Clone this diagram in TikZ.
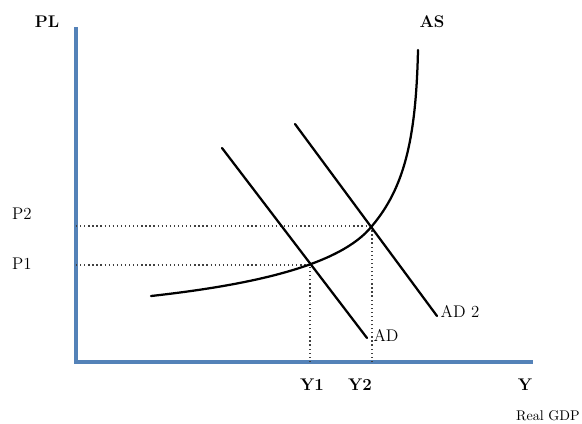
\documentclass[tikz,border=0pt]{standalone}
\usepackage{xcolor}
\usepackage{tikz}

\definecolor{axisblue}{RGB}{84,130,184}

\begin{document}
\begin{tikzpicture}
	[
	x=0.025cm, y=-0.025cm,
	axis/.style={
		draw=axisblue,
		line width=2.2pt
	},
	curve/.style={
		draw=black,
		line width=1.6pt,
		line cap=round
	},
	guide/.style={
		draw=black!75,
		dotted,
		line width=0.9pt
	},
	lbl/.style={
		font=\large,
		inner sep=0pt
	},
	blbl/.style={
		font=\large\bfseries,
		inner sep=0pt
	}
	]
	
	\useasboundingbox (0,0) rectangle (582,423);
	
	% Axes
	\coordinate (origin) at (76,362);
	\coordinate (y_top) at (76,27);
	\coordinate (x_end) at (533,362);
	\draw[axis] (y_top) -- (origin) -- (x_end);
	
	% Curve end points
	\coordinate (ad_start) at (222,148);
	\coordinate (ad_end) at (367,338);
	\coordinate (ad2_start) at (295,124);
	\coordinate (ad2_end) at (437,316);
	\coordinate (as_start) at (151,296);
	\coordinate (as_end) at (418,50);
	
	% Equilibria
	\coordinate (eq_one) at (310,265);
	\coordinate (eq_two) at (372,226);
	\coordinate (p_one) at (76,265);
	\coordinate (p_two) at (76,226);
	\coordinate (y_one) at (310,362);
	\coordinate (y_two) at (372,362);
	
	% Guide lines
	\draw[guide] (p_two) -- (eq_two);
	\draw[guide] (p_one) -- (eq_one);
	\draw[guide] (y_one) -- (eq_one);
	\draw[guide] (y_two) -- (eq_two);
	
	% Demand curves
	\draw[curve] (ad_start) -- (ad_end);
	\draw[curve] (ad2_start) -- (ad2_end);
	
	% Supply curve
	\draw[curve] (as_start) .. controls (250,285) and (340,266) .. (eq_two)
		.. controls (404,188) and (416,140) .. (as_end);
	
	% Labels
	\node[blbl] (pl_label) at (47,22) {PL};
	\node[lbl] (p2_label) at (22,214) {P2};
	\node[lbl] (p1_label) at (22,264) {P1};
	\node[blbl] (as_label) at (432,22) {AS};
	\node[lbl] (ad_label) at (386,335) {AD};
	\node[lbl] (ad2_label) at (460,311) {AD 2};
	\node[blbl] (y1_label) at (312,385) {Y1};
	\node[blbl] (y2_label) at (360,385) {Y2};
	\node[blbl] (y_label) at (525,385) {Y};
	\node[lbl, font=\normalsize, anchor=east] (gdp_label) at (580,416) {Real GDP};
	
\end{tikzpicture}
\end{document}
